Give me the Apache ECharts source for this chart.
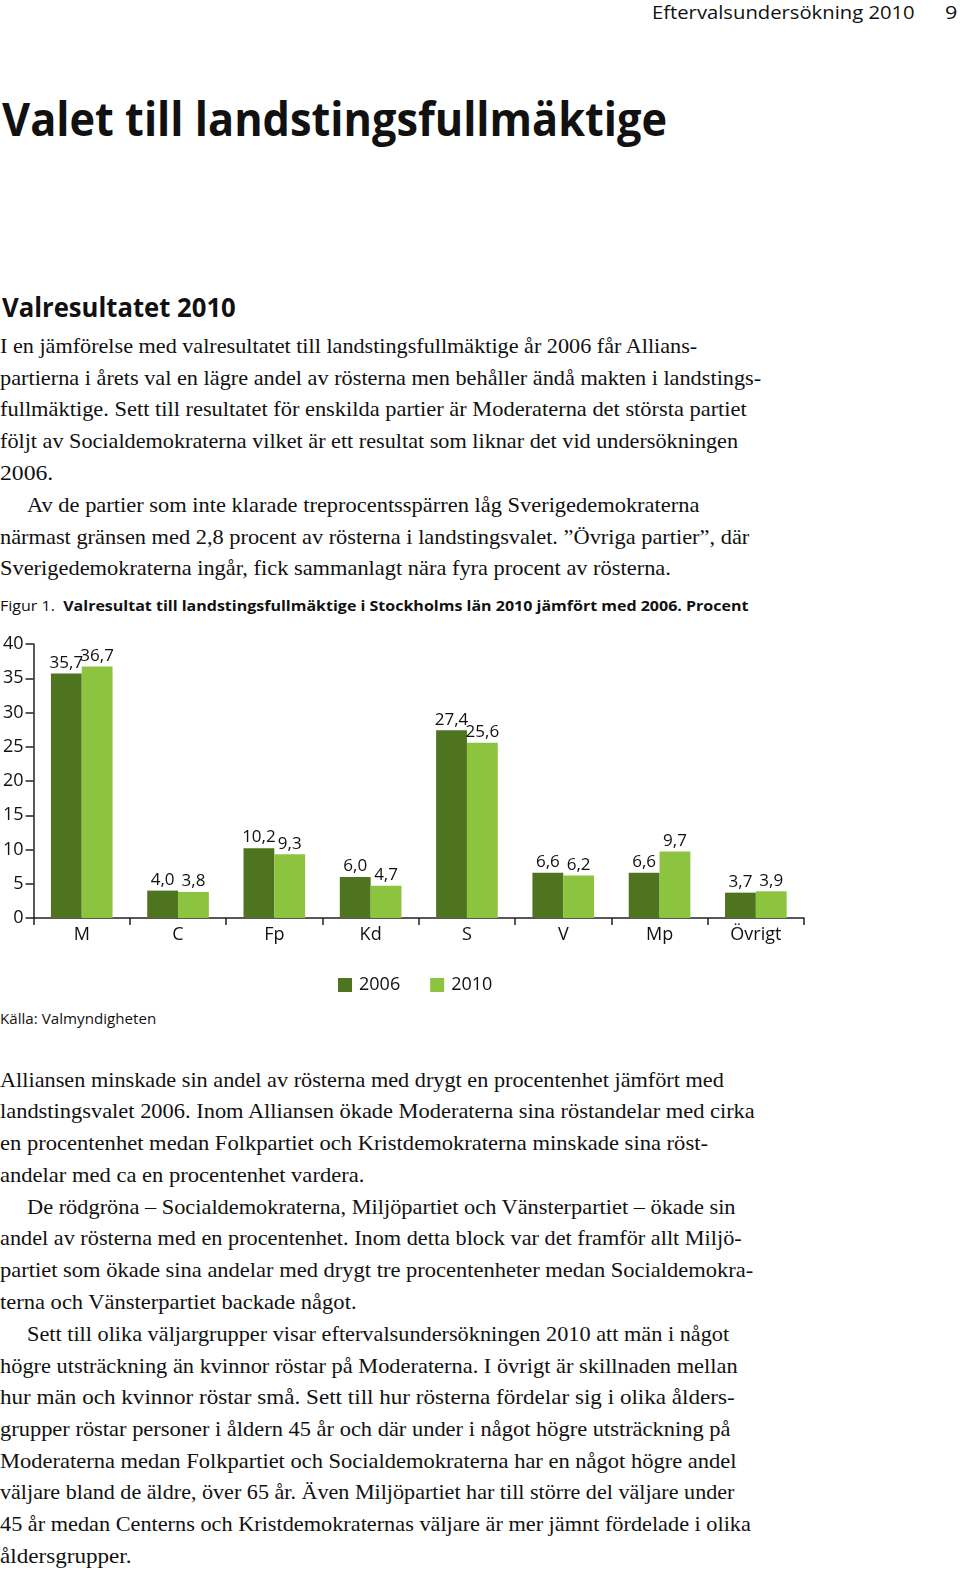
<!DOCTYPE html>
<html><head><meta charset="utf-8">
<script src="https://cdn.jsdelivr.net/npm/echarts@6/dist/echarts.min.js"></script>
<style>
html,body{margin:0;padding:0;background:#fff;}
body{width:960px;height:1571px;position:relative;overflow:hidden;color:#111;}
.ln{position:absolute;white-space:nowrap;display:inline-block;transform-origin:0 50%;}
.serif{font-family:"Liberation Serif","DejaVu Serif",serif;font-size:21px;line-height:24px;}
.sans{font-family:"Open Sans","Noto Sans",sans-serif;}
#chart{position:absolute;left:0;top:620px;width:960px;height:380px;}
</style></head>
<body>
<div id="chart"></div>
<script>
// ---- chart data ----
const categories = ["M","C","Fp","Kd","S","V","Mp","Övrigt"];
const values2006 = [35.7, 4.0, 10.2, 6.0, 27.4, 6.6, 6.6, 3.7];
const values2010 = [36.7, 3.8, 9.3, 4.7, 25.6, 6.2, 9.7, 3.9];
const seriesNames = ["2006","2010"];
const yTicks = [0,5,10,15,20,25,30,35,40];

// ---- page text lines: [text, x, centerY, targetWidth, cls, style] ----
const pageLines = [
 ["Eftervalsundersökning 2010", 652, 12, 263, "sans", "font-size:18px;"],
 ["9", 945, 12, 12, "sans", "font-size:18px;"],
 ["Valet till landstingsfullmäktige", 2, 118, 665, "sans", "font-size:47px;font-weight:700;"],
 ["Valresultatet 2010", 2, 307, 234, "sans", "font-size:26px;font-weight:700;"],
 ["I en jämförelse med valresultatet till landstingsfullmäktige år 2006 får Allians-", 0, 346, 697, "serif", ""],
 ["partierna i årets val en lägre andel av rösterna men behåller ändå makten i landstings-", 0, 378, 761, "serif", ""],
 ["fullmäktige. Sett till resultatet för enskilda partier är Moderaterna det största partiet", 0, 409, 747, "serif", ""],
 ["följt av Socialdemokraterna vilket är ett resultat som liknar det vid undersökningen", 0, 441, 738, "serif", ""],
 ["2006.", 0, 473, 53, "serif", ""],
 ["Av de partier som inte klarade treprocentsspärren låg Sverigedemokraterna", 27, 505, 672, "serif", ""],
 ["närmast gränsen med 2,8 procent av rösterna i landstingsvalet. ”Övriga partier”, där", 0, 537, 749, "serif", ""],
 ["Sverigedemokraterna ingår, fick sammanlagt nära fyra procent av rösterna.", 0, 568, 671, "serif", ""],
 ["Källa: Valmyndigheten", 0, 1018, 156, "sans", "font-size:14px;"],
 ["Alliansen minskade sin andel av rösterna med drygt en procentenhet jämfört med", 0, 1080, 724, "serif", ""],
 ["landstingsvalet 2006. Inom Alliansen ökade Moderaterna sina röstandelar med cirka", 0, 1111, 755, "serif", ""],
 ["en procentenhet medan Folkpartiet och Kristdemokraterna minskade sina röst-", 0, 1143, 708, "serif", ""],
 ["andelar med ca en procentenhet vardera.", 0, 1175, 364, "serif", ""],
 ["De rödgröna – Socialdemokraterna, Miljöpartiet och Vänsterpartiet – ökade sin", 27, 1207, 709, "serif", ""],
 ["andel av rösterna med en procentenhet. Inom detta block var det framför allt Miljö-", 0, 1238, 742, "serif", ""],
 ["partiet som ökade sina andelar med drygt tre procentenheter medan Socialdemokra-", 0, 1270, 753, "serif", ""],
 ["terna och Vänsterpartiet backade något.", 0, 1302, 357, "serif", ""],
 ["Sett till olika väljargrupper visar eftervalsundersökningen 2010 att män i något", 27, 1334, 702, "serif", ""],
 ["högre utsträckning än kvinnor röstar på Moderaterna. I övrigt är skillnaden mellan", 0, 1366, 738, "serif", ""],
 ["hur män och kvinnor röstar små. Sett till hur rösterna fördelar sig i olika ålders-", 0, 1397, 735, "serif", ""],
 ["grupper röstar personer i åldern 45 år och där under i något högre utsträckning på", 0, 1429, 730, "serif", ""],
 ["Moderaterna medan Folkpartiet och Socialdemokraterna har en något högre andel", 0, 1461, 736, "serif", ""],
 ["väljare bland de äldre, över 65 år. Även Miljöpartiet har till större del väljare under", 0, 1492, 734, "serif", ""],
 ["45 år medan Centerns och Kristdemokraternas väljare är mer jämnt fördelade i olika", 0, 1524, 751, "serif", ""],
 ["åldersgrupper.", 0, 1556, 132, "serif", ""]
];

function addLine(html, x, cy, w, cls, style){
  const el = document.createElement('span');
  el.className = 'ln ' + cls;
  el.style.cssText = style + 'left:' + x + 'px;';
  el.innerHTML = html;
  document.body.appendChild(el);
  const h = el.offsetHeight;
  el.style.top = (cy - h/2) + 'px';
  const sw = el.scrollWidth;
  if (w && sw) el.style.transform = 'scaleX(' + (w/sw) + ')';
}
pageLines.forEach(l => addLine(l[0].replace(/&/g,'&amp;'), l[1], l[2], l[3], l[4], l[5]));
addLine('Figur 1.&nbsp; <b>Valresultat till landstingsfullmäktige i Stockholms län 2010 jämfört med 2006. Procent</b>', 0, 605, 748, 'sans', 'font-size:15px;');

// ---- chart ----
const FONT = '"Open Sans","Noto Sans",sans-serif';
const chart = echarts.init(document.getElementById('chart'), null, {renderer:'canvas'});
const fmt = p => p.value.toFixed(1).replace('.', ',');
const lbl = {show:true, position:'top', distance:2, formatter:fmt, color:'#111',
  fontFamily:FONT, fontSize:17};
chart.setOption({
  animation:false,
  grid:{left:31, right:156, top:24, bottom:82},
  legend:{top:351, left:333, itemWidth:14, itemHeight:14, itemGap:30,
    icon:'rect', textStyle:{fontFamily:FONT, fontSize:18, color:'#111', padding:[0,0,0,2]},
    data:seriesNames},
  xAxis:{type:'category', data:categories,
    axisLine:{lineStyle:{color:'#222', width:1.5}},
    axisTick:{show:true, length:7, lineStyle:{color:'#222', width:1.5}},
    axisLabel:{color:'#111', fontSize:18, margin:8, fontFamily:FONT}},
  yAxis:{type:'value', min:yTicks[0], max:yTicks[yTicks.length-1], interval:5,
    splitLine:{show:false},
    axisLine:{show:true, lineStyle:{color:'#222', width:1.5}},
    axisTick:{show:true, length:8, lineStyle:{color:'#222', width:1.5}},
    axisLabel:{color:'#111', fontSize:18, margin:10, fontFamily:FONT}},
  series:[
    {name:seriesNames[0], type:'bar', data:values2006, barGap:'0%', barCategoryGap:'36%',
     itemStyle:{color:'#4e7420'}, label:lbl},
    {name:seriesNames[1], type:'bar', data:values2010, barGap:'0%', barCategoryGap:'36%',
     itemStyle:{color:'#8cc43f'}, label:lbl}
  ]
});
</script>
</body></html>
